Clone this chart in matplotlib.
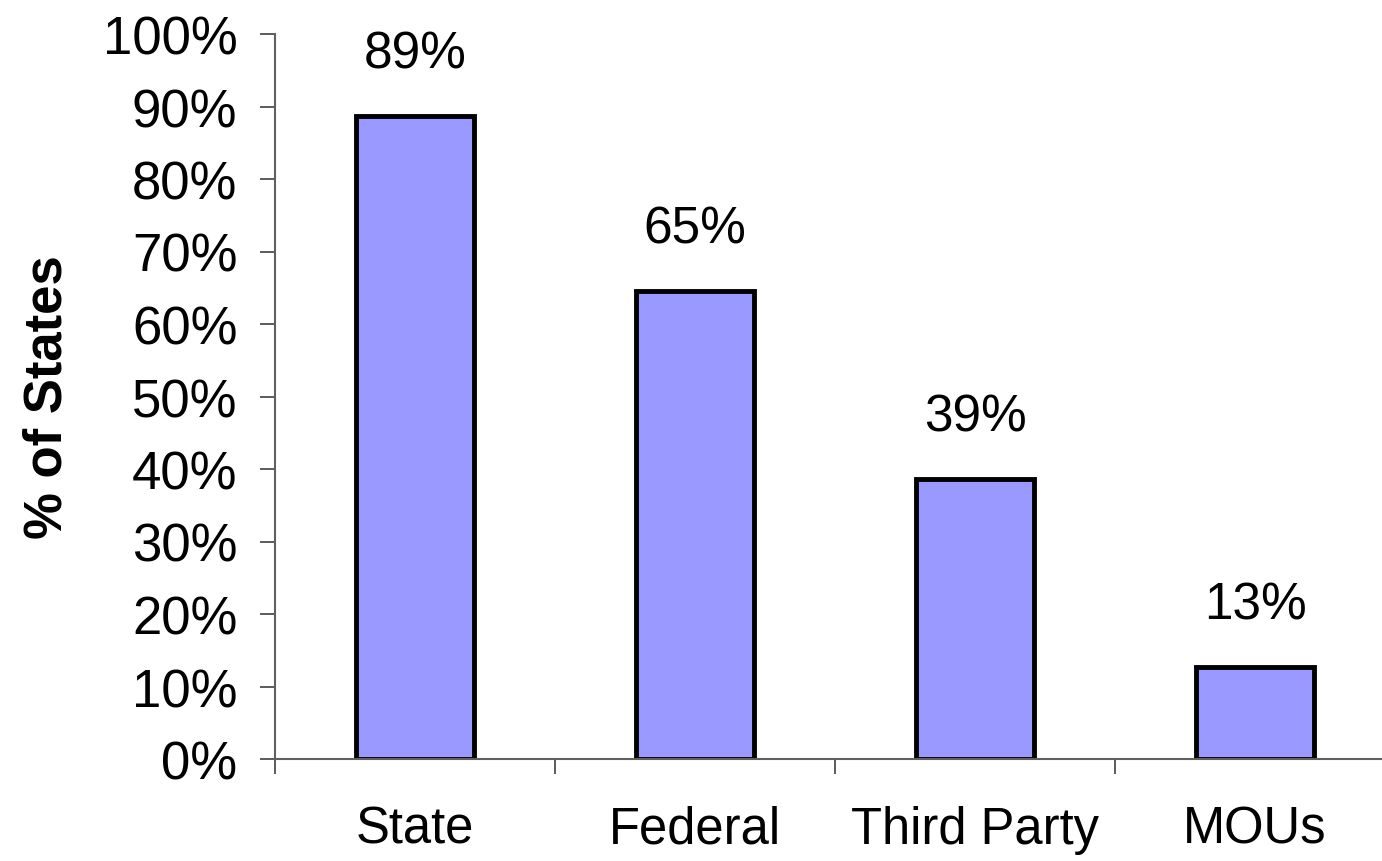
import numpy as np
import matplotlib.pyplot as plt

plt.rcParams['font.family'] = ['Liberation Sans', 'DejaVu Sans']

categories = ["State", "Federal", "Third Party", "MOUs"]
values = [88.7, 64.6, 38.6, 12.7]
labels = ["89%", "65%", "39%", "13%"]
yticks = [0, 10, 20, 30, 40, 50, 60, 70, 80, 90, 100]

fig = plt.figure(figsize=(13.82, 8.62), dpi=100)
ax = fig.add_axes([275 / 1382, 1 - 760 / 862, 1120 / 1382, 725 / 862])

x = np.arange(len(categories))
ax.bar(x, values, width=0.42, color="#9999ff", edgecolor="black", linewidth=3.5, zorder=3)

for xi, v, lab in zip(x, values, labels):
    ax.annotate(lab, (xi, v), xytext=(0, 27), textcoords="offset points",
                ha="center", va="bottom", fontsize=37)

ax.set_xlim(-0.5, 3.5)
ax.set_ylim(0, 100)
ax.set_yticks(yticks)
ax.set_yticklabels([f"{t}%" for t in yticks])
ax.tick_params(axis="y", labelsize=38, length=11, width=1.2, color="#404040", pad=16)

# category boundary ticks, labels in between
ax.set_xticks(np.arange(-0.5, 4, 1.0))
ax.set_xticklabels([])
ax.tick_params(axis="x", which="major", direction="out", length=11, width=1.2, color="#404040")
ax.set_xticks(x, minor=True)
ax.set_xticklabels(categories, minor=True)
ax.tick_params(axis="x", which="minor", length=0, labelsize=36.5, pad=33)

ax.set_ylabel("% of States", fontsize=38, fontweight="bold", labelpad=22)

for s in ["top", "right"]:
    ax.spines[s].set_visible(False)
for s in ["left", "bottom"]:
    ax.spines[s].set_color("#606060")
    ax.spines[s].set_linewidth(1.5)
ax.spines["bottom"].set_zorder(4)

fig.savefig("out.png", dpi=100)
